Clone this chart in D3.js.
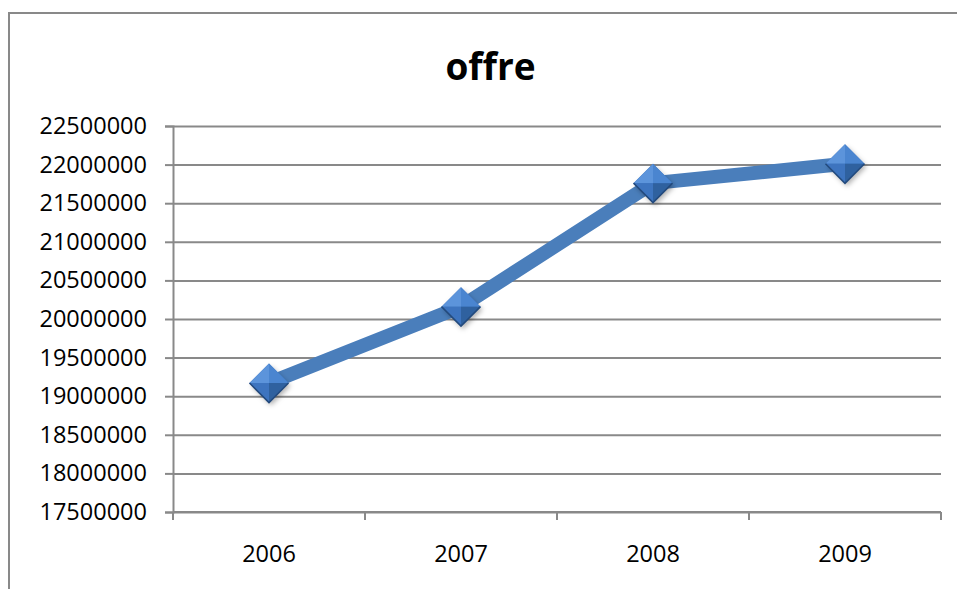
<!DOCTYPE html>
<html>
<head>
<meta charset="utf-8">
<script src="https://cdn.jsdelivr.net/npm/d3@7"></script>
<style>
  html, body { margin: 0; padding: 0; background: #fff; }
  svg { display: block; }
</style>
</head>
<body>
<svg id="chart" width="957" height="589"></svg>
<script>
const title = "offre";
const categories = ["2006", "2007", "2008", "2009"];
const values = [19170000, 20160000, 21760000, 22010000];
const yTicks = [17500000, 18000000, 18500000, 19000000, 19500000, 20000000, 20500000, 21000000, 21500000, 22000000, 22500000];

(function () {
const svg = d3.select("#chart");
const gridColor = "#898989";
const fontFam = "'Open Sans', 'Noto Sans', sans-serif";

const defs = svg.append("defs");
const f = defs.append("filter").attr("id", "shadow").attr("x", "-50%").attr("y", "-50%").attr("width", "200%").attr("height", "200%");
f.append("feDropShadow").attr("dx", 2).attr("dy", 3).attr("stdDeviation", 2.5).attr("flood-color", "#000").attr("flood-opacity", 0.3);

// chart border (right/bottom edges fall outside the window)
svg.append("rect").attr("x", 9).attr("y", 13).attr("width", 1000).attr("height", 700)
  .attr("fill", "#fff").attr("stroke", gridColor).attr("stroke-width", 2);

const pLeft = 173, pRight = 941, pTop = 126, pBottom = 512;

const x = d3.scaleBand().domain(categories).range([pLeft, pRight]).padding(0);
const y = d3.scaleLinear().domain([17500000, 22500000]).range([pBottom, pTop]);

// gridlines
const grid = svg.append("g").attr("transform", `translate(${pLeft},0)`)
  .call(d3.axisLeft(y).tickValues(yTicks).tickSize(-(pRight - pLeft)).tickFormat(""));
grid.select(".domain").remove();
grid.selectAll("line").attr("stroke", gridColor).attr("stroke-width", 2);

// y axis
const ya = svg.append("g").attr("transform", `translate(${pLeft},0)`)
  .call(d3.axisLeft(y).tickValues(yTicks).tickSize(8).tickPadding(18).tickFormat(d3.format("d")));
ya.select(".domain").attr("stroke", gridColor).attr("stroke-width", 2);
ya.selectAll("line").attr("stroke", gridColor).attr("stroke-width", 2);
ya.selectAll("text").attr("font-family", fontFam).attr("font-size", 23.5).attr("fill", "#000");

// x axis
const xa = svg.append("g").attr("transform", `translate(0,${pBottom})`)
  .call(d3.axisBottom(x).tickSize(0).tickPadding(33));
xa.select(".domain").remove();
xa.selectAll("text").attr("font-family", fontFam).attr("font-size", 23.5).attr("fill", "#000");
svg.append("line").attr("x1", pLeft).attr("x2", pRight).attr("y1", pBottom).attr("y2", pBottom)
  .attr("stroke", gridColor).attr("stroke-width", 2);
const bounds = categories.map(c => x(c)).concat([x(categories[categories.length - 1]) + x.bandwidth()]);
svg.append("g").selectAll("line").data(bounds).join("line")
  .attr("x1", d => d).attr("x2", d => d).attr("y1", pBottom).attr("y2", pBottom + 8)
  .attr("stroke", gridColor).attr("stroke-width", 2);

// title
svg.append("text").attr("x", 490.5).attr("y", 80).attr("text-anchor", "middle")
  .attr("font-family", fontFam).attr("font-weight", "bold").attr("font-size", 37).attr("fill", "#000")
  .text(title);

// line
const pts = categories.map((c, i) => [x(c) + x.bandwidth() / 2, y(values[i])]);
svg.append("path").datum(pts)
  .attr("d", d3.line())
  .attr("fill", "none").attr("stroke", "#4a7ebb").attr("stroke-width", 14).attr("stroke-linejoin", "round");

// diamond markers
const r = 19.5;
const mk = svg.append("g").selectAll("g").data(pts).join("g")
  .attr("transform", d => `translate(${d[0]},${d[1]})`);
mk.append("path").attr("d", `M${-r},0L0,${-r}L${r},0L0,${r}Z`).attr("fill", "#3a6fb8").attr("filter", "url(#shadow)");
const facets = [
  [[-r, 0], [0, -r], [0, 0], "#5c94db"],
  [[0, -r], [r, 0], [0, 0], "#4a85d0"],
  [[-r, 0], [0, r], [0, 0], "#3d74bf"],
  [[r, 0], [0, r], [0, 0], "#2f619f"]
];
facets.forEach(fc => {
  mk.append("path").attr("d", `M${fc[0][0]},${fc[0][1]}L${fc[1][0]},${fc[1][1]}L${fc[2][0]},${fc[2][1]}Z`).attr("fill", fc[3]);
});
mk.append("path").attr("d", `M${-r},0L0,${r}L${r},0`).attr("fill", "none").attr("stroke", "#234a7d").attr("stroke-width", 1.5);
})();
</script>
</body>
</html>
